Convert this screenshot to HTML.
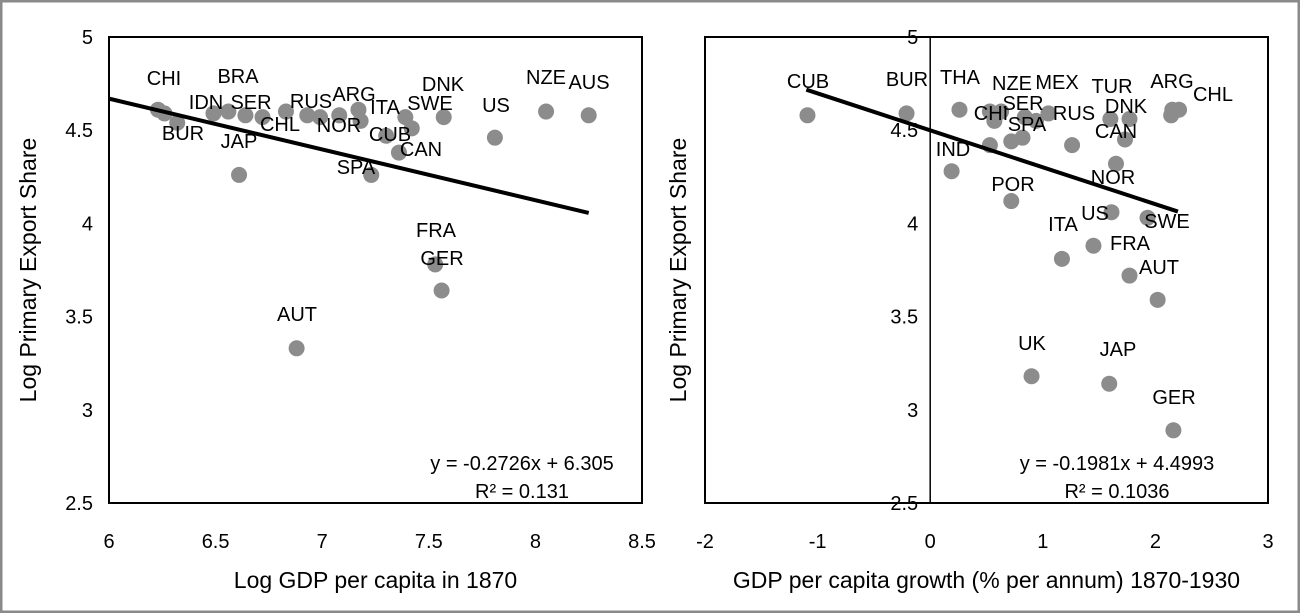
<!DOCTYPE html>
<html><head><meta charset="utf-8"><style>
html,body{margin:0;padding:0;background:#fff;}
svg{display:block;font-family:"Liberation Sans",sans-serif;}
</style></head><body>
<svg id="c" width="1300" height="613" viewBox="0 0 1300 613" xmlns="http://www.w3.org/2000/svg">
<rect x="1" y="1" width="1298" height="611" fill="#fff" stroke="#8a8a8a" stroke-width="3"/>
</svg>
<script>
// Left chart data
const leftX = [6.23,6.26,6.32,6.49,6.56,6.64,6.72,6.83,6.93,6.99,7.08,7.17,7.18,7.39,7.42,7.30,7.36,7.23,7.57,7.81,8.05,8.25,6.61,7.53,7.56,6.88];
const leftY = [4.61,4.59,4.54,4.59,4.60,4.58,4.57,4.60,4.58,4.57,4.58,4.61,4.55,4.57,4.51,4.47,4.38,4.26,4.57,4.46,4.60,4.58,4.26,3.78,3.64,3.33];
const leftXTicks = ["6","6.5","7","7.5","8","8.5"];
const leftYTicks = ["2.5","3","3.5","4","4.5","5"];
const leftLabels = ["CHI","BRA","IDN","SER","RUS","ARG","ITA","SWE","DNK","US","NZE","AUS","BUR","JAP","CHL","NOR","CUB","CAN","SPA","FRA","GER","AUT"];
const leftLabelPos = [[164,84],[238,82],[206,108],[251,108],[311,107],[354,100],[385,113],[430,109],[443,90],[496,111],[546,83],[589,88],[183,139],[239,147],[280,130],[339,131],[390,140],[421,155],[356,173],[436,236],[442,264],[297,320]];
const leftSlope = -0.2726, leftIntercept = 6.305, leftFitRange = [6.0, 8.25];
// Right chart data
const rightX = [-1.09,-0.21,0.26,0.57,0.53,0.63,0.84,0.94,1.05,0.72,0.82,0.53,1.26,1.60,1.77,1.73,1.65,2.15,2.21,2.14,0.19,0.72,1.61,1.93,1.45,1.17,1.77,2.02,0.90,1.59,2.16];
const rightY = [4.58,4.59,4.61,4.55,4.60,4.60,4.57,4.55,4.59,4.44,4.46,4.42,4.42,4.56,4.56,4.45,4.32,4.61,4.61,4.58,4.28,4.12,4.06,4.03,3.88,3.81,3.72,3.59,3.18,3.14,2.89];
const rightXTicks = ["-2","-1","0","1","2","3"];
const rightYTicks = ["2.5","3","3.5","4","4.5","5"];
const rightLabels = ["CUB","BUR","THA","NZE","MEX","SER","CHI","SPA","RUS","TUR","DNK","ARG","CHL","CAN","IND","POR","NOR","US","SWE","ITA","FRA","AUT","UK","JAP","GER"];
const rightLabelPos = [[808,87],[907,85],[960,83],[1012,89],[1057,88],[1023,109],[991,119],[1027,130],[1074,119],[1112,92],[1126,112],[1172,87],[1213,100],[1116,137],[953,155],[1013,190],[1113,183],[1095,219],[1167,227],[1063,230],[1130,249],[1159,273],[1032,349],[1118,355],[1174,403]];
const rightSlope = -0.1981, rightIntercept = 4.4993, rightFitRange = [-1.1, 2.2];

const NS = "http://www.w3.org/2000/svg";
const svg = document.getElementById('c');
function mk(tag, attrs, parent){const e=document.createElementNS(NS,tag);for(const k in attrs)e.setAttribute(k,attrs[k]);(parent||svg).appendChild(e);return e;}
function txt(s, attrs, parent){const e=mk('text',attrs,parent);e.textContent=s;return e;}

function drawChart(cfg){
  const g = mk('g',{});
  
  
  const xs = v => cfg.px0 + (v - cfg.xmin) / (cfg.xmax - cfg.xmin) * (cfg.px1 - cfg.px0);
  const ys = v => cfg.py1 - (v - cfg.ymin) / (cfg.ymax - cfg.ymin) * (cfg.py1 - cfg.py0);
  const box = mk('rect',{x:cfg.px0,y:cfg.py0,width:cfg.px1-cfg.px0,height:cfg.py1-cfg.py0,fill:'none',stroke:'#000','stroke-width':2},g);
  
  
  if (cfg.yAxisAt !== undefined){
    const ax = mk('line',{x1:xs(cfg.yAxisAt),x2:xs(cfg.yAxisAt),y1:cfg.py0,y2:cfg.py1,stroke:'#000','stroke-width':1.5},g);
    
    
  }
  const yLabX = cfg.yAxisAt !== undefined ? xs(cfg.yAxisAt) - 12 : cfg.px0 - 16;
  cfg.yTicks.forEach(t=>{
    const e = txt(t,{x:yLabX,y:ys(parseFloat(t))+7,'text-anchor':'end','font-size':20,fill:'#000'},g);
    
    
  });
  cfg.xTicks.forEach(t=>{
    const e = txt(t,{x:xs(parseFloat(t)),y:548,'text-anchor':'middle','font-size':20,fill:'#000'},g);
    
    
  });
  const xt = txt(cfg.xTitle,{x:(cfg.px0+cfg.px1)/2 - cfg.xTitleShift,y:588,'text-anchor':'middle','font-size':23,fill:'#000'},g);
  
  
  const yt = txt('Log Primary Export Share',{x:0,y:0,'text-anchor':'middle','font-size':23,fill:'#000',transform:`translate(${cfg.yTitleX},270) rotate(-90)`},g);
  
  
  cfg.xv.forEach((v,i)=>{
    const c = mk('circle',{cx:xs(v),cy:ys(cfg.yv[i]),r:8,fill:'#8c8c8c'},g);
    
    
  });
  const f = cfg.fit;
  const tl = mk('line',{x1:xs(f[0]),y1:ys(cfg.slope*f[0]+cfg.intercept),x2:xs(f[1]),y2:ys(cfg.slope*f[1]+cfg.intercept),stroke:'#000','stroke-width':4},g);
  
  
  cfg.labels.forEach((s,i)=>{
    const e = txt(s,{x:cfg.labelPos[i][0],y:cfg.labelPos[i][1]+1,'text-anchor':'middle','font-size':20,fill:'#000'},g);
    
    
  });
  const eq = txt(cfg.eq,{x:cfg.eqX,y:470,'text-anchor':'middle','font-size':20,fill:'#000'},g);
  
  
  const r2 = txt(cfg.r2,{x:cfg.eqX,y:498,'text-anchor':'middle','font-size':20,fill:'#000'},g);
  
  
}

drawChart({name:'left-scatter', px0:109, px1:642, py0:37, py1:503, xmin:6, xmax:8.5, ymin:2.5, ymax:5,
  xv:leftX, yv:leftY, xTicks:leftXTicks, yTicks:leftYTicks, labels:leftLabels, labelPos:leftLabelPos,
  slope:leftSlope, intercept:leftIntercept, fit:leftFitRange, xTitle:'Log GDP per capita in 1870', xTitleShift:0,
  yTitleX:36, eq:'y = -0.2726x + 6.305', r2:'R² = 0.131', eqX:522});
drawChart({name:'right-scatter', px0:705, px1:1268, py0:37, py1:503, xmin:-2, xmax:3, ymin:2.5, ymax:5,
  xv:rightX, yv:rightY, xTicks:rightXTicks, yTicks:rightYTicks, labels:rightLabels, labelPos:rightLabelPos,
  slope:rightSlope, intercept:rightIntercept, fit:rightFitRange, xTitle:'GDP per capita growth (% per annum) 1870-1930', xTitleShift:0,
  yTitleX:686, yAxisAt:0, eq:'y = -0.1981x + 4.4993', r2:'R² = 0.1036', eqX:1117});
</script>
</body></html>
